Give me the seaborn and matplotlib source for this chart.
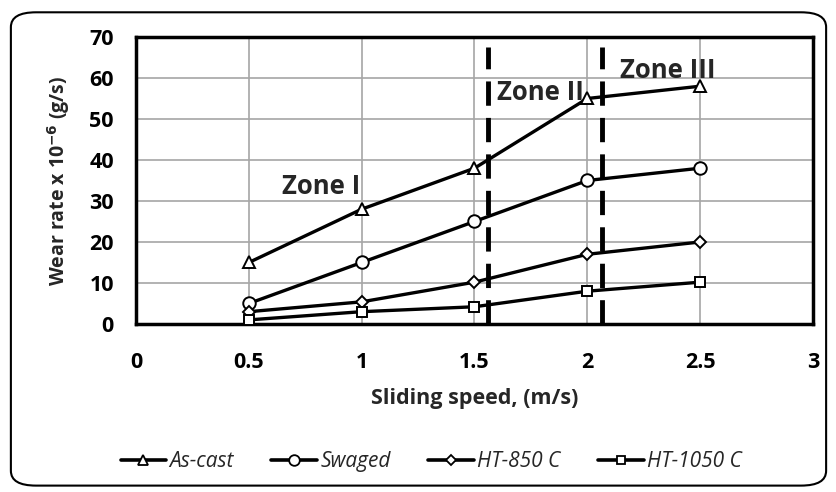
import matplotlib
matplotlib.use("Agg")
import matplotlib.pyplot as plt
import seaborn as sns
import pandas as pd
from matplotlib.patches import FancyBboxPatch
from matplotlib.lines import Line2D

# data
speed = [0.5, 1.0, 1.5, 2.0, 2.5]
as_cast = [15, 28, 38, 55, 58]
swaged = [5, 15, 25, 35, 38]
ht_850 = [3, 5.4, 10.2, 17, 20]
ht_1050 = [1, 3, 4.2, 8, 10.2]
series_names = ["As-cast", "Swaged", "HT-850 C", "HT-1050 C"]
zone_bounds = [1.56, 2.065]
zone_labels = ["Zone I", "Zone II", "Zone III"]
zone_label_pos = [(0.82, 33.5), (1.6, 56.5), (2.145, 61.8)]

sns.set_theme(style="white")
plt.rcParams["font.family"] = ["Open Sans", "DejaVu Sans"]

df = pd.DataFrame({
    "speed": speed * 4,
    "rate": as_cast + swaged + ht_850 + ht_1050,
    "series": sum([[n] * len(speed) for n in series_names], []),
})

fig = plt.figure(figsize=(8.37, 4.92), dpi=100)
ax = fig.add_axes([0.1625, 0.3415, 0.8088, 0.5833])

# rounded outer frame
frame = FancyBboxPatch((0.013, 0.013), 0.974, 0.962,
                       boxstyle="round,pad=0,rounding_size=0.03",
                       transform=fig.transFigure, fill=False,
                       edgecolor="black", linewidth=1.5, zorder=0)
fig.patches.append(frame)

markers = {"As-cast": "^", "Swaged": "o", "HT-850 C": "D", "HT-1050 C": "s"}
msize = {"As-cast": 8, "Swaged": 9, "HT-850 C": 6.5, "HT-1050 C": 7.5}
for name in series_names:
    sub = df[df["series"] == name]
    sns.lineplot(data=sub, x="speed", y="rate", ax=ax, color="black",
                 linewidth=2.4, marker=markers[name], markersize=msize[name],
                 markerfacecolor="white", markeredgecolor="black",
                 markeredgewidth=1.4, zorder=4, legend=False)

for xb in zone_bounds:
    ax.axvline(xb, ymin=0, ymax=0.965, color="black", linewidth=3.5,
               linestyle=(0, (5, 2.5)), zorder=3)

for lbl, (tx, ty) in zip(zone_labels, zone_label_pos):
    ax.text(tx, ty, lbl, fontsize=18.5, fontweight="bold",
            ha="left" if lbl != "Zone I" else "center",
            va="center", zorder=5)

ax.set_xlim(0, 3)
ax.set_ylim(0, 70)
ax.set_xticks([0, 0.5, 1, 1.5, 2, 2.5, 3])
ax.set_xticklabels(["0", "0.5", "1", "1.5", "2", "2.5", "3"])
ax.set_yticks(range(0, 71, 10))
ax.grid(True, color="#a6a6a6", linewidth=1.2)
ax.set_axisbelow(True)
for sp in ax.spines.values():
    sp.set_color("black")
    sp.set_linewidth(2.5)
ax.tick_params(axis="x", direction="in", length=5, width=1.5, pad=20,
               labelsize=15.5, colors="black")
ax.tick_params(axis="y", direction="in", length=7, width=1.5, pad=16,
               labelsize=15.5, colors="black")
for t in ax.get_xticklabels() + ax.get_yticklabels():
    t.set_fontweight("bold")

ax.set_xlabel("Sliding speed, (m/s)", fontsize=15.5, fontweight="bold", labelpad=11)
ax.set_ylabel("Wear rate x 10$^{\\mathbf{-6}}$ (g/s)", fontsize=14, fontweight="bold",
              labelpad=12)

handles = [Line2D([0], [0], color="black", linewidth=2.6, marker=markers[n],
                  markersize=msize[n] * 0.85, markerfacecolor="white",
                  markeredgecolor="black", markeredgewidth=1.3) for n in series_names]
fig.legend(handles, series_names, loc="center", bbox_to_anchor=(0.515, 0.062),
           ncol=4, frameon=False, handlelength=2.2, columnspacing=1.8,
           handletextpad=0.15, prop={"style": "italic", "size": 15})

fig.savefig("out.png", dpi=100)
